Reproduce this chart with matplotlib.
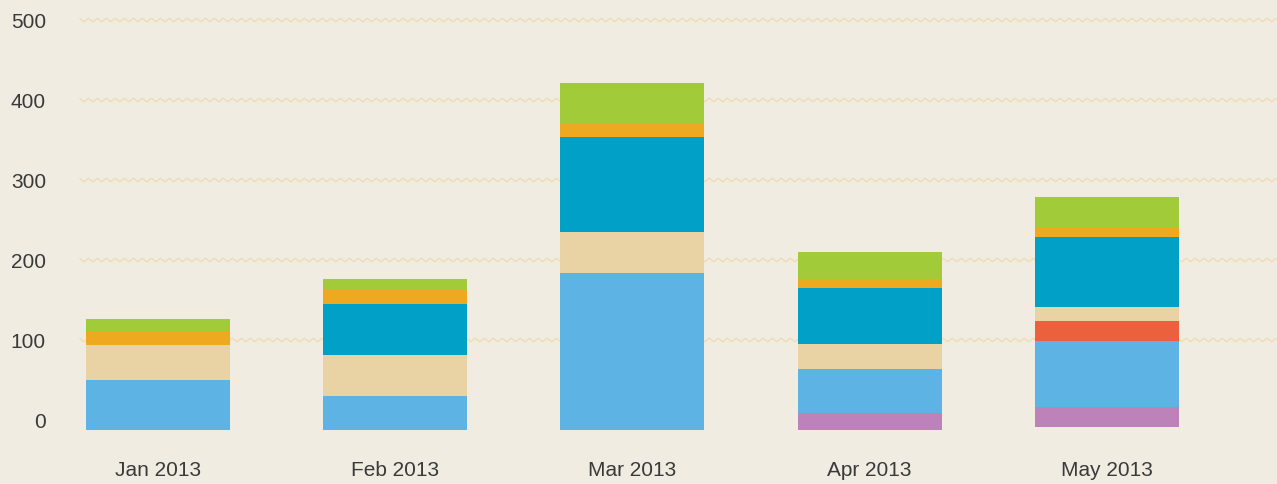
import numpy as np
import matplotlib
matplotlib.use("Agg")
import matplotlib.pyplot as plt

months = ["Jan 2013", "Feb 2013", "Mar 2013", "Apr 2013", "May 2013"]

# bars start a little under the zero line in the original
baseline = [-12.5, -12.5, -12.5, -12.5, -8.5]

# stacked segments, bottom to top
purple = [0, 0, 0, 21.25, 24.5]
blue = [62.5, 42.5, 196.25, 55, 82.5]
red = [0, 0, 0, 0, 25]
beige = [43.75, 51.25, 51.25, 31.25, 17.5]
teal = [0, 64, 118.75, 70, 87.5]
orange = [17, 17.5, 16.25, 11, 12.5]
green = [15.5, 13.25, 51, 34, 37.5]

yticks = [0, 100, 200, 300, 400, 500]

series = [purple, blue, red, beige, teal, orange, green]
colors = ["#bc82b9", "#5db3e3", "#ec613d", "#e9d3a5", "#01a0c6", "#eda920", "#a2cb3a"]

bg = "#f0ece2"
plt.rcParams['font.family'] = ['Liberation Sans', 'DejaVu Sans']

fig = plt.figure(figsize=(12.77, 4.84), dpi=100, facecolor=bg)
ax = fig.add_axes([80 / 1277, (484 - 432) / 484, 1 - 80 / 1277, 420 / 484])
ax.set_facecolor(bg)

x = np.arange(len(months))
ax.set_xlim(-0.329, 4.717)
ax.set_ylim(-15, 510)

# wavy gridlines
xs = np.linspace(-0.329, 4.717, 3000)
period = 9 / 237.25
for t in yticks[1:]:
    ax.plot(xs, t + 1.9 * np.sin(2 * np.pi * xs / period), color="#efdcb0",
            lw=1.0, zorder=1, clip_on=False)

bottom = np.array(baseline, dtype=float)
for vals, c in zip(series, colors):
    vals = np.array(vals, dtype=float)
    ax.bar(x, vals, width=0.607, bottom=bottom, color=c, zorder=2, linewidth=0)
    bottom = bottom + vals

for s in ax.spines.values():
    s.set_visible(False)

# pads in points (dpi 100 -> 0.72 pt per pixel)
ax.set_yticks(yticks)
ax.set_yticklabels([str(t) for t in yticks])
ax.set_xticks(x)
ax.set_xticklabels(months)
ax.tick_params(axis="y", length=0, pad=24.5, labelsize=15, labelcolor="#3a3a3a")
ax.tick_params(axis="x", length=0, pad=21, labelsize=15, labelcolor="#3a3a3a")

fig.savefig("out.png", dpi=100, facecolor=bg)
